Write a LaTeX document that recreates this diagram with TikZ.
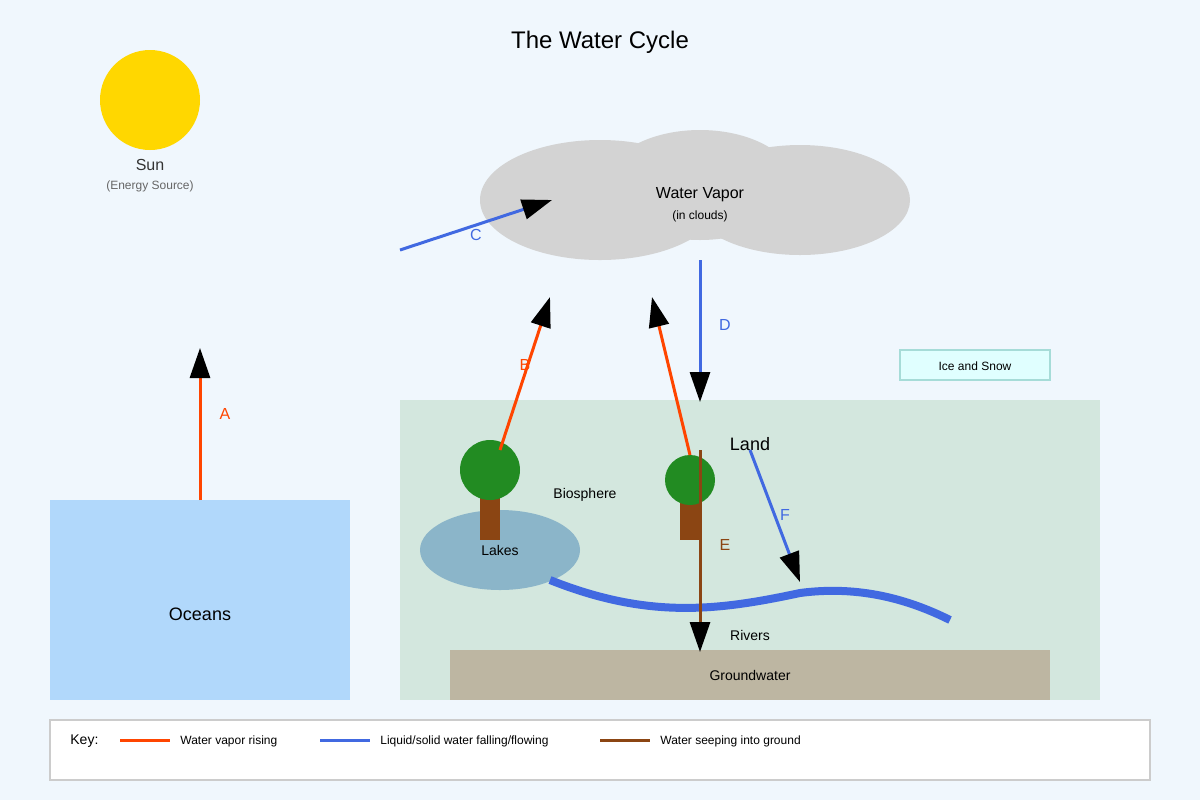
\documentclass[tikz,border=0pt]{standalone}
\usepackage{fontspec}
\setmainfont{Liberation Sans}
\usetikzlibrary{positioning,arrows.meta}

\definecolor{bgblue}{HTML}{F0F7FD}
\definecolor{sungold}{HTML}{FFD700}
\definecolor{cloudgray}{HTML}{D3D3D3}
\definecolor{oceanblue}{HTML}{B1D8FB}
\definecolor{landgreen}{HTML}{D3E7DE}
\definecolor{groundtan}{HTML}{BDB6A2}
\definecolor{icefill}{HTML}{E0FFFF}
\definecolor{iceline}{HTML}{A6DCD8}
\definecolor{lakeblue}{HTML}{8BB5C9}
\definecolor{trunkbrown}{HTML}{8B4513}
\definecolor{crowngreen}{HTML}{228B22}
\definecolor{riseorange}{HTML}{FF4500}
\definecolor{flowblue}{HTML}{4169E1}
\definecolor{textdark}{HTML}{333333}
\definecolor{textgray}{HTML}{666666}

\tikzset{
  lbl/.style={font=\fontsize{#1}{#1}\selectfont, inner sep=0pt},
  flow/.style={line width=1.5pt, -{Triangle[length=15pt,width=10pt,fill=black,color=black]}},
  keyline/.style={line width=1.5pt}
}

\begin{document}
\begin{tikzpicture}[x=0.5pt,y=-0.5pt]
\fill[bgblue] (0,0) rectangle (1200,800);
\useasboundingbox (0,0) rectangle (1200,800);

% title and sun
\node[lbl=12] (title) at (600,42) {The Water Cycle};
\fill[sungold] (150,100) circle (50);
\node[lbl=8, text=textdark] (sun) at (150,165) {Sun};
\node[lbl=6, text=textgray] (energy) at (150,186) {(Energy Source)};

% cloud
\fill[cloudgray] (600,200) ellipse (120 and 60);
\fill[cloudgray] (700,185) ellipse (95 and 55);
\fill[cloudgray] (800,200) ellipse (110 and 55);
\node[lbl=8] (vapor) at (700,195) {Water Vapor};
\node[lbl=6] (inclouds) at (700,216) {(in clouds)};

% oceans and land
\fill[oceanblue] (50,500) rectangle (350,700);
\node[lbl=9] (oceans) at (200,614) {Oceans};
\fill[landgreen] (400,400) rectangle (1100,700);
\node[lbl=9] (land) at (750,444) {Land};
\fill[groundtan] (450,650) rectangle (1050,700);
\node[lbl=7] (ground) at (750,675) {Groundwater};
\draw[iceline, fill=icefill, line width=1pt] (900,350) rectangle (1050,380);
\node[lbl=6] (ice) at (975,366) {Ice and Snow};

% lakes, trees, river
\fill[lakeblue] (500,550) ellipse (80 and 40);
\node[lbl=7] (lakes) at (500,550) {Lakes};
\fill[trunkbrown] (480,490) rectangle (500,540);
\fill[crowngreen] (490,470) circle (30);
\fill[trunkbrown] (680,495) rectangle (700,540);
\fill[crowngreen] (690,480) circle (25);
\node[lbl=7] (bio) at (585,495) {Biosphere};
\draw[flowblue, line width=4pt] (550,580) .. controls (650,620) and (720,610) .. (800,593)
  .. controls (860,585) and (910,600) .. (950,620);
\node[lbl=7] (rivers) at (750,635) {Rivers};

% arrow ends
\coordinate (a0) at (200,500); \coordinate (a1) at (200,348);
\coordinate (b0) at (500,450); \coordinate (b1) at (550,297);
\coordinate (g0) at (690,455); \coordinate (g1) at (652,297);
\coordinate (c0) at (400,250); \coordinate (c1) at (552,200);
\coordinate (d0) at (700,260); \coordinate (d1) at (700,402);
\coordinate (e0) at (700,450); \coordinate (e1) at (700,652);
\coordinate (f0) at (750,450); \coordinate (f1) at (800,582);

\draw[flow, riseorange] (a0) -- (a1);
\draw[flow, riseorange] (b0) -- (b1);
\draw[flow, riseorange] (g0) -- (g1);
\draw[flow, flowblue] (c0) -- (c1);
\draw[flow, flowblue] (d0) -- (d1);
\draw[flow, trunkbrown] (e0) -- (e1);
\draw[flow, flowblue] (f0) -- (f1);
\node[lbl=8, text=riseorange] (la) at (225,414) {A};
\node[lbl=8, text=riseorange] (lb) at (525,365) {B};
\node[lbl=8, text=flowblue] (lc) at (476,235) {C};
\node[lbl=8, text=flowblue] (ld) at (725,325) {D};
\node[lbl=8, text=trunkbrown] (le) at (725,545) {E};
\node[lbl=8, text=flowblue] (lf) at (785,515) {F};

% key
\draw[fill=white, draw=black!20, line width=1pt] (50,720) rectangle (1150,780);
\node[lbl=7, anchor=west] (key) at (70,741) {Key:};
\coordinate (k1) at (120,740); \coordinate (k2) at (170,740);
\coordinate (k3) at (320,740); \coordinate (k4) at (370,740);
\coordinate (k5) at (600,740); \coordinate (k6) at (650,740);
\draw[keyline, riseorange] (k1) -- (k2);
\draw[keyline, flowblue] (k3) -- (k4);
\draw[keyline, trunkbrown] (k5) -- (k6);
\node[lbl=6, anchor=west] (kt1) at (180,741) {Water vapor rising};
\node[lbl=6, anchor=west] (kt2) at (380,741) {Liquid/solid water falling/flowing};
\node[lbl=6, anchor=west] (kt3) at (660,741) {Water seeping into ground};
\end{tikzpicture}
\end{document}
